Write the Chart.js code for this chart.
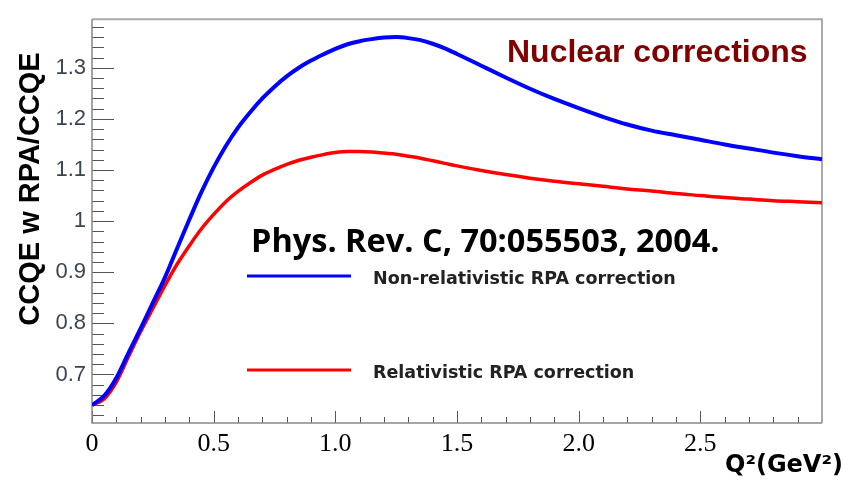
<!DOCTYPE html>
<html>
<head>
<meta charset="utf-8">
<title>Nuclear corrections</title>
<script src="https://cdn.jsdelivr.net/npm/chart.js@4.4.1/dist/chart.umd.min.js"></script>
<style>
  html, body { margin: 0; padding: 0; background: #fff; }
  #wrap { width: 850px; height: 483px; }
</style>
</head>
<body>
<div id="wrap"><canvas id="rpaChart" width="850" height="483"></canvas></div>
<script>
// ── DATA ──────────────────────────────────────────────────────────────────────

const Q2 = [0, 0.05, 0.1, 0.15, 0.2, 0.25, 0.3, 0.35, 0.4, 0.45,
            0.5, 0.55, 0.6, 0.65, 0.7, 0.75, 0.8, 0.85, 0.9, 0.95,
            1.0, 1.05, 1.1, 1.15, 1.2, 1.25, 1.3, 1.35, 1.4, 1.45,
            1.5, 1.6, 1.7, 1.8, 1.9, 2.0, 2.1, 2.2, 2.3, 2.4,
            2.5, 2.6, 2.7, 2.8, 2.9, 3.0];

const NON_REL_RPA = [0.640, 0.658, 0.693, 0.742, 0.790, 0.840, 0.890, 0.947, 1.003, 1.057,
                     1.105, 1.147, 1.183, 1.213, 1.240, 1.263, 1.283, 1.300, 1.314, 1.326,
                     1.337, 1.346, 1.352, 1.356, 1.359, 1.360, 1.358, 1.354, 1.347, 1.338,
                     1.327, 1.304, 1.281, 1.259, 1.239, 1.221, 1.204, 1.189, 1.177, 1.168,
                     1.159, 1.150, 1.142, 1.134, 1.127, 1.121];

const REL_RPA = [0.640, 0.652, 0.685, 0.735, 0.784, 0.829, 0.874, 0.916, 0.952, 0.985,
                 1.013, 1.038, 1.058, 1.075, 1.090, 1.101, 1.111, 1.119, 1.125, 1.130,
                 1.134, 1.136, 1.136, 1.135, 1.133, 1.131, 1.127, 1.123, 1.118, 1.113,
                 1.108, 1.099, 1.091, 1.084, 1.078, 1.073, 1.068, 1.063, 1.059, 1.054,
                 1.050, 1.046, 1.043, 1.040, 1.038, 1.036];

const SERIES_LABELS = ['Non-relativistic RPA correction', 'Relativistic RPA correction'];

const X_TICKS = [0, 0.5, 1.0, 1.5, 2.0, 2.5];
const X_TICK_LABELS = ['0', '0.5', '1.0', '1.5', '2.0', '2.5'];
const Y_TICKS = [0.7, 0.8, 0.9, 1.0, 1.1, 1.2, 1.3];
const Y_TICK_LABELS = ['0.7', '0.8', '0.9', '1', '1.1', '1.2', '1.3'];

// ── DECORATIONS (frame, inner ticks, titles, legend) ─────────────────────────

const rootStyle = {
  id: 'rootStyle',
  beforeDatasetsDraw(chart) {
    const { ctx, chartArea: a, scales: { x, y } } = chart;
    ctx.save();
    ctx.lineWidth = 1;
    ctx.strokeStyle = '#555';
    ctx.beginPath();
    // x ticks every 0.1, long every 0.5
    for (let k = 0; k <= 30; k++) {
      const px = Math.round(x.getPixelForValue(k / 10)) + 0.5;
      const len = k % 5 === 0 ? 12 : 6;
      ctx.moveTo(px, a.bottom);
      ctx.lineTo(px, a.bottom - len);
    }
    // y ticks every 0.02, long every 0.1
    for (let k = 31; k <= 69; k++) {
      const py = Math.round(y.getPixelForValue(k * 0.02)) + 0.5;
      const len = k % 5 === 0 ? 22 : 12;
      ctx.moveTo(a.left, py);
      ctx.lineTo(a.left + len, py);
    }
    ctx.stroke();

    // frame
    ctx.strokeStyle = '#aaa';
    ctx.lineWidth = 2;
    ctx.beginPath();
    ctx.moveTo(a.left, a.top);
    ctx.lineTo(a.right, a.top);
    ctx.lineTo(a.right, a.bottom);
    ctx.stroke();
    ctx.strokeStyle = '#888';
    ctx.lineWidth = 1.5;
    ctx.beginPath();
    ctx.moveTo(a.left, a.top);
    ctx.lineTo(a.left, a.bottom);
    ctx.lineTo(a.right, a.bottom);
    ctx.stroke();
    ctx.restore();
  },
  afterDraw(chart) {
    const { ctx } = chart;
    ctx.save();

    // y axis title
    ctx.save();
    ctx.translate(31, 189);
    ctx.rotate(-Math.PI / 2);
    ctx.font = 'bold 29px "Liberation Sans", Arial, sans-serif';
    ctx.fillStyle = '#000';
    ctx.textAlign = 'center';
    ctx.textBaseline = 'middle';
    ctx.fillText('CCQE w RPA/CCQE', 0, 0);
    ctx.restore();

    // x axis title
    ctx.font = 'bold 24px "DejaVu Sans", sans-serif';
    ctx.fillStyle = '#000';
    ctx.textAlign = 'left';
    ctx.textBaseline = 'alphabetic';
    ctx.fillText('Q\u00b2(GeV\u00b2)', 725, 472);

    ctx.font = 'bold 32px "Liberation Sans", Arial, sans-serif';
    ctx.fillStyle = '#800000';
    ctx.fillText('Nuclear corrections', 507, 62);

    // reference line, sized to span 468px
    const ref = 'Phys. Rev. C, 70:055503, 2004.';
    ctx.font = 'bold 30px "Open Sans", sans-serif';
    const size = 30 * 468 / ctx.measureText(ref).width;
    ctx.font = `bold ${size.toFixed(1)}px "Open Sans", sans-serif`;
    ctx.fillStyle = '#000';
    ctx.fillText(ref, 251, 252);

    // legend
    const rows = [276, 370];
    chart.data.datasets.forEach((ds, i) => {
      ctx.strokeStyle = ds.borderColor;
      ctx.lineWidth = 3;
      ctx.beginPath();
      ctx.moveTo(247, rows[i]);
      ctx.lineTo(351, rows[i]);
      ctx.stroke();
      ctx.font = 'bold 17.5px "DejaVu Sans", sans-serif';
      ctx.fillStyle = '#222';
      ctx.fillText(ds.label, 373, rows[i] + 8);
    });
    ctx.restore();
  }
};

// ── CHART ─────────────────────────────────────────────────────────────────────

const toPoints = ys => Q2.map((q, i) => ({ x: q, y: ys[i] }));

new Chart(document.getElementById('rpaChart').getContext('2d'), {
  type: 'line',
  data: {
    datasets: [
      { label: SERIES_LABELS[0], data: toPoints(NON_REL_RPA), borderColor: '#0000ff', borderWidth: 4,
        pointRadius: 0, cubicInterpolationMode: 'monotone' },
      { label: SERIES_LABELS[1], data: toPoints(REL_RPA), borderColor: '#ff0000', borderWidth: 3.5,
        pointRadius: 0, cubicInterpolationMode: 'monotone' },
    ],
  },
  options: {
    responsive: false,
    animation: false,
    devicePixelRatio: 1,
    layout: { padding: { top: 13, right: 28, left: 0, bottom: 0 } },
    plugins: { legend: { display: false }, tooltip: { enabled: false } },
    scales: {
      x: {
        type: 'linear', min: 0, max: 3.0,
        grid: { display: false, drawTicks: false },
        border: { display: false },
        afterBuildTicks: s => { s.ticks = X_TICKS.map(v => ({ value: v })); },
        afterFit: s => { s.height = 60; },
        ticks: {
          autoSkip: false, maxRotation: 0, padding: 6, color: '#000',
          font: { family: '"Liberation Serif", "Times New Roman", serif', size: 26 },
          callback: (v, i) => X_TICK_LABELS[i],
        },
      },
      y: {
        type: 'linear', min: 0.605, max: 1.395,
        grid: { display: false, drawTicks: false },
        border: { display: false },
        afterBuildTicks: s => { s.ticks = Y_TICKS.map(v => ({ value: v })); },
        afterFit: s => { s.width = 92; },
        ticks: {
          autoSkip: false, padding: 6, color: '#3a4552',
          font: { family: '"Liberation Sans", Arial, sans-serif', size: 22 },
          callback: (v, i) => Y_TICK_LABELS[i],
        },
      },
    },
  },
  plugins: [rootStyle],
});
</script>
</body>
</html>
